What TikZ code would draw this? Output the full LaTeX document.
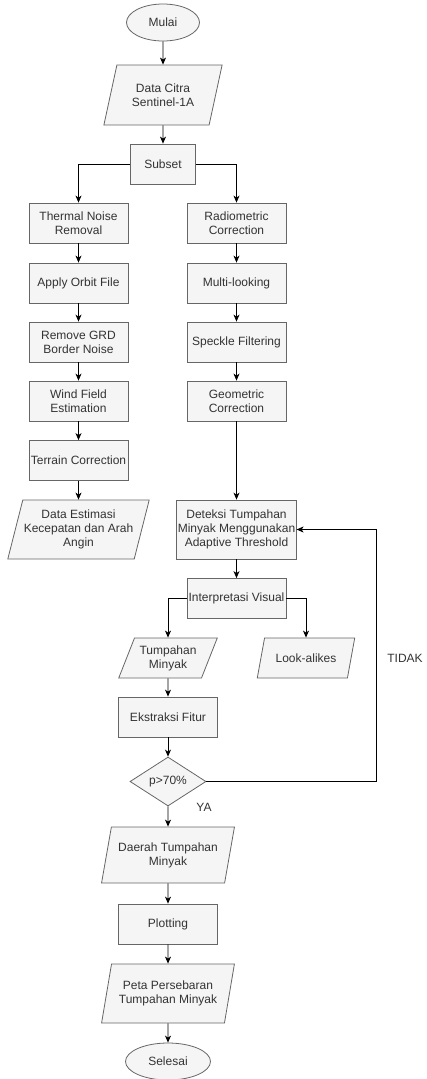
\documentclass[tikz,border=0pt]{standalone}
\usepackage{fontspec}
\setmainfont{Liberation Sans}
\usetikzlibrary{shapes.geometric,arrows.meta}
\definecolor{boxfill}{HTML}{F5F5F5}
\definecolor{boxline}{HTML}{666666}
\definecolor{boxtext}{HTML}{333333}

\begin{document}
\begin{tikzpicture}[x=1pt,y=1pt]
\tikzstyle{every node}+=[inner sep=1pt, font=\fontsize{12}{14}\selectfont, text=boxtext, align=center]
\tikzstyle{proc}=[draw=boxline, fill=boxfill, line width=0.8pt, minimum width=99pt, minimum height=40pt]
\tikzstyle{term}=[ellipse, draw=boxline, fill=boxfill, line width=0.8pt, minimum width=73pt, minimum height=37pt]
\tikzstyle{data}=[trapezium, trapezium left angle=70, trapezium right angle=110, trapezium stretches=true, draw=boxline, fill=boxfill, line width=0.8pt, minimum height=59pt]
\tikzstyle{cond}=[diamond, draw=boxline, fill=boxfill, line width=0.8pt, minimum width=76pt, minimum height=49pt, inner sep=0pt]
\tikzstyle{flow}=[black, line width=0.8pt, -{Stealth[length=7pt,width=6pt,inset=2pt]}]
\useasboundingbox (0,0) rectangle (427,-1079);
\draw (163,-22.5) node [term] (mulai) {Mulai};
\draw (163,-95) node [data, minimum width=119pt, minimum height=60pt] (citra) {Data Citra\\Sentinel-1A};
\draw (163,-164) node [proc, minimum width=65pt] (subset) {Subset};
\draw (78.5,-223) node [proc] (thermal) {Thermal Noise\\Removal};
\draw (78.5,-283) node [proc] (orbit) {Apply Orbit File};
\draw (78.5,-342) node [proc] (grd) {Remove GRD\\Border Noise};
\draw (78.5,-401) node [proc] (wind) {Wind Field\\Estimation};
\draw (78.5,-460.5) node [proc] (terrain) {Terrain Correction};
\draw (78.5,-529.5) node [data, minimum width=139pt] (estimasi) {Data Estimasi\\Kecepatan dan Arah\\Angin};
\draw (236.5,-223) node [proc] (radio) {Radiometric\\Correction};
\draw (236.5,-283) node [proc] (multi) {Multi-looking};
\draw (236.5,-342) node [proc] (speckle) {Speckle Filtering};
\draw (236.5,-401) node [proc] (geo) {Geometric\\Correction};
\draw (236.5,-529.5) node [proc, minimum width=119pt, minimum height=59pt] (deteksi) {Deteksi Tumpahan\\Minyak Menggunakan\\Adaptive Threshold};
\draw (236.5,-598.5) node [proc] (interp) {Interpretasi Visual};
\draw (168,-658) node [data, trapezium left angle=63, trapezium right angle=117, minimum width=99pt, minimum height=40pt] (tumpahan) {Tumpahan\\Minyak};
\draw (306,-658) node [data, trapezium left angle=63, trapezium right angle=117, minimum width=98pt, minimum height=40pt] (look) {Look-alikes};
\draw (168,-717) node [proc] (ekstraksi) {Ekstraksi Fitur};
\draw (168,-781.5) node [cond] (cek) {p>70\%};
\draw (168,-855) node [data, trapezium left angle=72, trapezium right angle=108, minimum width=133pt, minimum height=56pt] (daerah) {Daerah Tumpahan\\Minyak};
\draw (168,-924) node [proc] (plotting) {Plotting};
\draw (168,-993.5) node [data, trapezium left angle=72, trapezium right angle=108, minimum width=133pt] (peta) {Peta Persebaran\\Tumpahan Minyak};
\draw (168,-1061.5) node [term, minimum width=85pt] (selesai) {Selesai};
\draw (204,-807) node (ya) {YA};
\draw (405,-658) node (tidak) {TIDAK};
\coordinate (balik) at (376,-781.5);
\draw [flow] (mulai) -- (citra);
\draw [flow] (citra) -- (subset);
\draw [flow] (subset.west) -| (thermal);
\draw [flow] (subset.east) -| (radio);
\draw [flow] (thermal) -- (orbit);
\draw [flow] (orbit) -- (grd);
\draw [flow] (grd) -- (wind);
\draw [flow] (wind) -- (terrain);
\draw [flow] (terrain) -- (estimasi);
\draw [flow] (radio) -- (multi);
\draw [flow] (multi) -- (speckle);
\draw [flow] (speckle) -- (geo);
\draw [flow] (geo) -- (deteksi);
\draw [flow] (deteksi) -- (interp);
\draw [flow] (interp.west) -| (tumpahan);
\draw [flow] (interp.east) -| (look);
\draw [flow] (tumpahan) -- (ekstraksi);
\draw [flow] (ekstraksi) -- (cek);
\draw [flow] (cek) -- (daerah);
\draw [flow] (daerah) -- (plotting);
\draw [flow] (plotting) -- (peta);
\draw [flow] (peta) -- (selesai);
\draw [flow] (cek.east) -- (balik) |- (deteksi.east);
\end{tikzpicture}
\end{document}
